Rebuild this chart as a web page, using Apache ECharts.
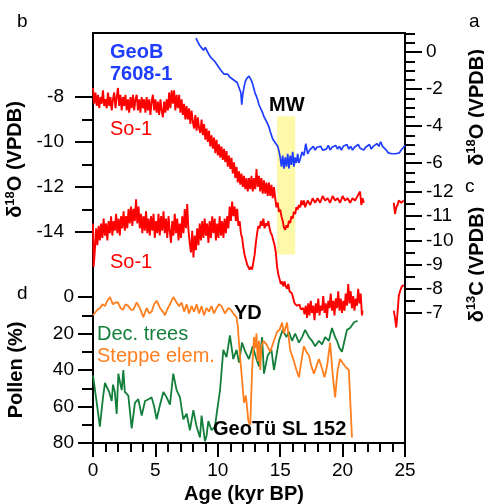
<!DOCTYPE html>
<html>
<head>
<meta charset="utf-8">
<title>So-1 / GeoB 7608-1 / GeoTu SL 152</title>
<script src="https://cdn.jsdelivr.net/npm/echarts@6/dist/echarts.min.js"></script>
<style>
    html, body { margin: 0; padding: 0; background: #fff; }
    #chart { width: 484px; height: 504px; }
</style>
</head>
<body>
<div id="chart"></div>
<script>

// Data
// ------------------------------

// GeoB 7608-1 d18O, [age kyr BP, permil]
var geobO = [
    [8.25, 0.75], [8.4, 0.55], [8.55, 0.35], [8.7, 0.45], [8.85, 0.1], [9.0, 0.25], [9.15, 0.05],
    [9.3, -0.15], [9.45, -0.3], [9.6, -0.4], [9.75, -0.5], [9.9, -0.65], [10.05, -0.75], [10.2, -0.95],
    [10.35, -1.05], [10.5, -1.2], [10.65, -1.3], [10.8, -1.2], [10.95, -1.35], [11.1, -1.45], [11.25, -1.5],
    [11.4, -1.55], [11.55, -1.65], [11.7, -1.7], [11.85, -2.2], [11.92, -2.85], [12.0, -2.3], [12.1, -1.9],
    [12.2, -1.6], [12.3, -1.45], [12.4, -1.55], [12.5, -1.3], [12.6, -1.35], [12.7, -1.55], [12.8, -1.75],
    [12.9, -2.0], [13.0, -2.25], [13.1, -2.4], [13.2, -2.6], [13.3, -2.85], [13.4, -3.0], [13.5, -3.1],
    [13.6, -3.3], [13.7, -3.5], [13.8, -3.6], [13.9, -3.75], [14.0, -3.9], [14.1, -4.05], [14.2, -4.3],
    [14.3, -4.5], [14.4, -4.7], [14.5, -4.75], [14.6, -4.9], [14.7, -4.95], [14.8, -5.1], [14.9, -5.35],
    [15.0, -5.7], [15.1, -6.2], [15.2, -5.6], [15.3, -6.3], [15.4, -5.7], [15.5, -6.2], [15.6, -5.5],
    [15.7, -6.3], [15.8, -5.6], [15.9, -6.1], [16.0, -5.4], [16.1, -6.2], [16.2, -5.7], [16.3, -6.0],
    [16.4, -5.5], [16.5, -6.0], [16.6, -5.8], [16.75, -5.4], [16.9, -5.6], [17.05, -4.95], [17.2, -5.5],
    [17.35, -5.3], [17.5, -5.4], [17.65, -5.1], [17.8, -5.3], [17.95, -5.15], [18.1, -5.25], [18.25, -5.1],
    [18.4, -5.3], [18.55, -5.2], [18.7, -5.25], [18.85, -5.05], [19.0, -5.3], [19.15, -5.15], [19.3, -5.2],
    [19.45, -5.05], [19.6, -5.25], [19.75, -5.1], [19.9, -5.3], [20.05, -5.1], [20.2, -5.2], [20.35, -5.0],
    [20.5, -5.25], [20.65, -5.1], [20.8, -5.3], [20.95, -5.15], [21.1, -5.25], [21.25, -5.0], [21.4, -5.2],
    [21.55, -5.1], [21.7, -5.3], [21.85, -5.15], [22.0, -5.2], [22.15, -5.0], [22.3, -5.25], [22.45, -5.1],
    [22.6, -5.15], [22.75, -4.95], [22.9, -5.1], [23.05, -4.85], [23.2, -5.1], [23.35, -5.2], [23.5, -5.3],
    [23.65, -5.45], [23.8, -5.35], [23.95, -5.5], [24.1, -5.45], [24.25, -5.5], [24.4, -5.4], [24.55, -5.45],
    [24.7, -5.3], [24.85, -5.2], [25.0, -5.05]
];

// So-1 d18O
var so1O = [
    [0.0, -7.6], [0.1, -8.3], [0.2, -7.8], [0.3, -8.4], [0.4, -7.9], [0.5, -8.5], [0.6, -8.0], [0.7, -8.3],
    [0.8, -7.7], [0.9, -8.4], [1.0, -8.1], [1.1, -8.5], [1.2, -7.8], [1.3, -8.4], [1.4, -8.0], [1.5, -8.6],
    [1.6, -8.1], [1.7, -7.8], [1.8, -8.5], [1.9, -8.0], [2.0, -7.6], [2.1, -8.4], [2.2, -7.9], [2.3, -8.6],
    [2.4, -8.0], [2.5, -8.4], [2.6, -7.9], [2.7, -8.6], [2.8, -8.1], [2.9, -8.7], [3.0, -8.0], [3.1, -8.5],
    [3.2, -7.9], [3.3, -8.6], [3.4, -8.1], [3.5, -7.9], [3.6, -8.6], [3.7, -8.1], [3.8, -8.7], [3.9, -8.0],
    [4.0, -8.5], [4.1, -8.1], [4.2, -8.7], [4.3, -8.0], [4.4, -8.6], [4.5, -8.1], [4.6, -8.8], [4.7, -8.2],
    [4.8, -7.9], [4.9, -8.6], [5.0, -8.1], [5.1, -8.7], [5.2, -8.2], [5.3, -8.8], [5.4, -8.1], [5.5, -8.6],
    [5.6, -8.9], [5.7, -8.2], [5.8, -8.7], [5.9, -8.1], [6.0, -8.6], [6.1, -7.8], [6.2, -8.5], [6.3, -7.7],
    [6.4, -8.3], [6.5, -7.7], [6.6, -8.6], [6.7, -7.9], [6.8, -8.5], [6.9, -7.9], [7.0, -8.7], [7.1, -8.1],
    [7.2, -8.8], [7.3, -8.3], [7.4, -9.0], [7.5, -8.4], [7.6, -9.0], [7.7, -8.5], [7.8, -9.2], [7.9, -8.6],
    [8.0, -9.1], [8.1, -9.4], [8.2, -8.8], [8.3, -9.5], [8.4, -8.9], [8.5, -9.4], [8.6, -9.6], [8.7, -9.0],
    [8.8, -9.7], [8.9, -9.2], [9.0, -9.9], [9.1, -9.4], [9.2, -10.0], [9.3, -9.5], [9.4, -10.2], [9.5, -9.7],
    [9.6, -10.3], [9.7, -9.8], [9.8, -10.5], [9.9, -9.9], [10.0, -10.6], [10.1, -10.1], [10.2, -10.7],
    [10.3, -10.2], [10.4, -10.8], [10.5, -10.3], [10.6, -10.9], [10.7, -10.4], [10.8, -11.1], [10.9, -10.6],
    [11.0, -11.2], [11.1, -10.7], [11.2, -11.4], [11.3, -10.9], [11.4, -11.6], [11.5, -11.1], [11.6, -11.8],
    [11.7, -11.3], [11.8, -11.9], [11.9, -11.4], [12.0, -12.0], [12.1, -11.5], [12.2, -12.1], [12.3, -11.6],
    [12.4, -12.2], [12.5, -11.6], [12.6, -12.1], [12.7, -11.5], [12.8, -12.2], [12.9, -11.6], [13.0, -12.1],
    [13.1, -11.2], [13.2, -12.0], [13.3, -11.5], [13.4, -12.2], [13.5, -11.6], [13.6, -12.3], [13.7, -11.7],
    [13.8, -12.3], [13.9, -11.8], [14.0, -12.4], [14.1, -11.8], [14.2, -12.4], [14.3, -11.9], [14.4, -12.5],
    [14.5, -12.0], [14.6, -12.5], [14.7, -12.9], [14.8, -12.7], [14.9, -13.1], [15.0, -13.0], [15.1, -13.3],
    [15.2, -13.5], [15.3, -13.8], [15.4, -13.9], [15.5, -13.7], [15.6, -13.8], [15.7, -13.5], [15.8, -13.6],
    [15.9, -13.3], [16.0, -13.4], [16.1, -13.1], [16.2, -13.2], [16.3, -12.9], [16.4, -13.0], [16.5, -12.8],
    [16.6, -12.9], [16.7, -12.6], [16.8, -12.8], [16.9, -12.6], [17.0, -12.9], [17.2, -12.6], [17.4, -12.8],
    [17.6, -12.5], [17.8, -12.7], [18.0, -12.5], [18.2, -12.7], [18.4, -12.4], [18.6, -12.6], [18.8, -12.5],
    [19.0, -12.7], [19.2, -12.4], [19.4, -12.6], [19.6, -12.5], [19.8, -12.7], [20.0, -12.4], [20.2, -12.6],
    [20.4, -12.5], [20.6, -12.7], [20.8, -12.5], [21.0, -12.6], [21.2, -12.4], [21.4, -12.2], [21.5, -12.8],
    [21.6, -12.5], [21.7, -12.7]
];
var so1OLate = [
    [24.1, -12.7], [24.2, -13.2], [24.3, -12.9], [24.4, -12.8], [24.5, -12.6], [24.7, -12.7], [24.9, -12.6]
];

// So-1 d13C
var so1C = [
    [0.0, -10.7], [0.05, -8.9], [0.15, -9.6], [0.25, -10.5], [0.35, -9.8], [0.45, -10.6], [0.55, -10.0],
    [0.65, -10.7], [0.75, -10.1], [0.85, -10.9], [0.95, -10.2], [1.05, -10.7], [1.15, -10.0], [1.25, -10.8],
    [1.35, -10.3], [1.45, -11.0], [1.55, -10.2], [1.65, -10.8], [1.75, -10.4], [1.85, -11.1], [1.95, -10.3],
    [2.05, -10.9], [2.15, -10.2], [2.25, -11.0], [2.35, -10.5], [2.45, -11.2], [2.55, -10.4], [2.65, -11.0],
    [2.75, -10.5], [2.85, -11.3], [2.95, -10.7], [3.05, -11.4], [3.15, -10.6], [3.25, -11.3], [3.35, -10.8],
    [3.45, -11.7], [3.55, -10.7], [3.65, -11.4], [3.75, -10.5], [3.85, -11.1], [3.95, -10.3], [4.05, -11.0],
    [4.15, -10.4], [4.25, -11.2], [4.35, -10.3], [4.45, -10.9], [4.55, -10.2], [4.65, -11.0], [4.75, -10.4],
    [4.85, -11.1], [4.95, -10.1], [5.05, -10.8], [5.15, -10.3], [5.25, -11.1], [5.35, -10.2], [5.45, -11.0],
    [5.55, -10.4], [5.65, -11.2], [5.75, -10.3], [5.85, -10.9], [5.95, -10.1], [6.05, -11.0], [6.15, -10.4],
    [6.25, -9.9], [6.35, -10.8], [6.45, -10.2], [6.55, -11.1], [6.65, -10.3], [6.75, -10.9], [6.85, -10.0],
    [6.95, -10.7], [7.05, -10.1], [7.15, -11.0], [7.25, -10.3], [7.35, -11.3], [7.45, -10.5], [7.55, -11.5],
    [7.65, -10.4], [7.75, -9.9], [7.85, -9.5], [7.95, -10.4], [8.05, -9.3], [8.15, -10.2], [8.25, -9.6],
    [8.35, -10.5], [8.45, -9.8], [8.55, -10.7], [8.65, -10.0], [8.75, -10.8], [8.85, -10.1], [8.95, -10.9],
    [9.05, -10.2], [9.15, -10.7], [9.25, -9.9], [9.35, -10.8], [9.45, -10.1], [9.55, -11.0], [9.65, -10.3],
    [9.75, -10.9], [9.85, -10.0], [9.95, -10.7], [10.05, -10.1], [10.15, -11.0], [10.25, -10.2], [10.35, -10.8],
    [10.45, -10.1], [10.55, -10.9], [10.65, -10.3], [10.75, -11.0], [10.85, -10.5], [10.95, -11.4], [11.05, -10.8],
    [11.15, -11.6], [11.25, -11.0], [11.35, -11.4], [11.45, -10.8], [11.55, -11.3], [11.65, -10.6], [11.75, -10.8],
    [11.85, -10.3], [11.95, -10.1], [12.05, -9.7], [12.15, -9.4], [12.25, -9.2], [12.35, -9.0], [12.45, -8.9],
    [12.55, -8.8], [12.65, -8.9], [12.75, -8.8], [12.85, -9.1], [12.95, -9.4], [13.05, -9.9], [13.15, -10.3],
    [13.25, -10.6], [13.35, -10.5], [13.45, -10.8], [13.55, -10.6], [13.65, -10.9], [13.75, -10.5], [13.85, -10.7],
    [13.95, -10.6], [14.05, -10.8], [14.15, -10.5], [14.25, -10.3], [14.35, -10.2], [14.45, -10.0], [14.55, -9.8],
    [14.65, -9.5], [14.75, -8.9], [14.85, -8.6], [14.95, -8.4], [15.05, -8.2], [15.15, -8.3], [15.25, -8.1],
    [15.35, -8.3], [15.45, -8.1], [15.55, -8.0], [15.65, -8.2], [15.75, -7.9], [15.85, -7.95], [15.95, -7.8],
    [16.05, -7.6], [16.15, -7.4], [16.25, -7.45], [16.35, -7.3], [16.45, -7.25], [16.55, -7.35], [16.65, -7.15],
    [16.75, -7.1], [16.85, -7.2], [16.95, -6.95], [17.05, -7.3], [17.15, -6.8], [17.25, -7.4], [17.35, -6.9],
    [17.45, -7.5], [17.55, -7.0], [17.65, -7.3], [17.75, -6.7], [17.85, -7.4], [17.95, -7.0], [18.05, -7.6],
    [18.15, -6.9], [18.25, -7.3], [18.35, -7.1], [18.45, -7.7], [18.55, -7.0], [18.65, -7.4], [18.75, -6.8],
    [18.85, -7.5], [18.95, -7.2], [19.05, -7.8], [19.15, -7.1], [19.25, -7.5], [19.35, -6.9], [19.45, -7.6],
    [19.55, -7.2], [19.65, -7.9], [19.75, -7.1], [19.85, -7.6], [19.95, -7.0], [20.05, -7.5], [20.15, -7.1],
    [20.25, -7.8], [20.35, -7.3], [20.45, -8.2], [20.55, -7.4], [20.65, -7.9], [20.75, -7.2], [20.85, -7.7],
    [20.95, -7.1], [21.05, -7.6], [21.15, -7.3], [21.25, -8.0], [21.35, -7.4], [21.45, -7.8], [21.55, -6.9],
    [21.6, -7.1]
];
var so1CLate = [
    [24.1, -7.1], [24.2, -6.8], [24.3, -6.4], [24.4, -7.0], [24.5, -7.7], [24.6, -7.9], [24.75, -8.1], [24.9, -8.15]
];

// GeoTu SL 152 pollen, %
var decTrees = [
    [0.0, 43], [0.3, 58], [0.55, 71], [0.8, 55], [0.96, 47], [1.15, 50], [1.3, 52], [1.5, 57], [1.6, 48],
    [1.75, 52], [1.9, 64], [2.03, 42], [2.2, 48], [2.3, 51], [2.43, 40], [2.55, 52], [2.7, 51], [2.83, 54],
    [3.1, 72], [3.36, 58], [3.63, 56], [3.9, 65], [4.17, 57], [4.45, 56], [4.7, 55], [4.9, 60], [5.1, 67],
    [5.37, 59], [5.64, 52], [5.9, 55], [6.17, 59], [6.43, 42], [6.7, 51], [6.97, 55], [7.1, 61], [7.24, 67],
    [7.5, 64], [7.77, 73], [8.04, 62], [8.3, 71], [8.57, 77], [8.7, 65], [8.97, 79], [9.1, 76], [9.24, 68],
    [9.5, 73], [9.77, 71], [9.95, 62], [10.18, 51], [10.44, 29], [10.7, 33], [10.97, 21], [11.24, 34],
    [11.5, 29], [11.7, 36], [11.94, 25], [12.2, 30], [12.5, 34], [12.8, 27], [13.05, 33], [13.3, 38],
    [13.55, 22], [13.7, 42], [14.0, 32], [14.3, 29], [14.5, 40], [14.7, 32], [14.9, 24], [15.2, 18],
    [15.5, 22], [15.7, 19], [15.95, 24], [16.2, 20], [16.5, 25], [16.75, 22], [17.0, 18], [17.3, 22],
    [17.55, 24], [17.8, 27], [18.1, 24], [18.35, 26], [18.6, 22], [18.9, 24], [19.15, 17], [19.4, 22],
    [19.55, 24], [19.75, 28], [19.95, 30], [20.15, 24], [20.35, 18], [20.6, 17], [20.9, 14], [21.2, 13]
];
var steppe = [
    [0.0, 10], [0.15, 9], [0.35, 7], [0.56, 6], [0.75, 4], [0.96, 5], [1.15, 2], [1.36, 0], [1.6, 4],
    [1.8, 3], [2.0, 3], [2.2, 6], [2.4, 7], [2.6, 4], [2.83, 5], [3.05, 7], [3.23, 7], [3.5, 3], [3.75, 6],
    [4.03, 11], [4.3, 6], [4.5, 9], [4.7, 8], [4.9, 4], [5.1, 2], [5.37, 6], [5.6, 8], [5.77, 10], [6.0, 6],
    [6.17, 4], [6.43, 0], [6.7, 3], [6.9, 5], [7.1, 3], [7.3, 8], [7.5, 4], [7.7, 9], [7.9, 5], [8.1, 8],
    [8.3, 4], [8.5, 9], [8.7, 5], [8.9, 10], [9.1, 6], [9.3, 8], [9.5, 5], [9.7, 9], [9.9, 6], [10.1, 4],
    [10.3, 5], [10.57, 9], [10.84, 6], [11.05, 7], [11.24, 9], [11.5, 11], [11.6, 16], [11.75, 30],
    [11.94, 45], [12.1, 58], [12.25, 54], [12.45, 68], [12.6, 70], [12.75, 40], [12.9, 22], [13.0, 28],
    [13.1, 20], [13.2, 35], [13.3, 24], [13.4, 40], [13.5, 27], [13.65, 24], [13.9, 26], [14.2, 30],
    [14.5, 24], [14.75, 19], [14.95, 18], [15.15, 14], [15.3, 20], [15.55, 14], [15.8, 29], [16.05, 34],
    [16.3, 40], [16.5, 44], [16.7, 35], [16.9, 27], [17.1, 30], [17.3, 32], [17.5, 38], [17.7, 42],
    [17.9, 38], [18.1, 34], [18.3, 38], [18.55, 44], [18.75, 38], [19.0, 25], [19.2, 42], [19.4, 55],
    [19.6, 40], [19.8, 34], [20.0, 36], [20.2, 38], [20.5, 40], [20.75, 77]
];

// Meltwater (MW) interval, kyr BP, and the So-1 d18O span of its shading
var mwAges = [14.75, 16.2];
var mwSpan = [-8.85, -15.0];


// Setup module
// ------------------------------

var PaleoStackChart = function() {

    var _stackChart = function() {
        if (typeof echarts == 'undefined') {
            console.warn('Warning - echarts.min.js is not loaded.');
            return;
        }

        var element = document.getElementById('chart');
        if (!element) {
            return;
        }

        var chart = echarts.init(element, null, { renderer: 'canvas' });

        // Colors and fonts
        var font = '"Liberation Sans", Arial, sans-serif',
            black = '#000',
            red = '#ff0000',
            blue = '#1f3dff',
            green = '#137f3b',
            orange = '#ff7f1f',
            shade = 'rgba(253, 245, 140, 0.75)';

        var tickStyle = { color: black, width: 2 };

        // Every grid shares the frame's horizontal extent
        var makeGrid = function(top, height) {
            var g = { left: 93, right: 79, top: top, outerBoundsMode: 'none', containLabel: false };
            if (height == null) {
                g.bottom = 61;
            } else {
                g.height = height;
            }
            return g;
        };

        // Title with superscript isotope number
        var isoTitle = function(mass, element) {
            return '{a|\u03b4}{s|' + mass + '}{a|' + element + ' (VPDB)}';
        };
        var titleRich = {
            a: { fontFamily: font, fontSize: 20, fontWeight: 'bold', color: black, lineHeight: 22, verticalAlign: 'bottom' },
            s: { fontFamily: font, fontSize: 13, fontWeight: 'bold', color: black, lineHeight: 22, verticalAlign: 'top' }
        };

        // Hidden x axis for a data grid
        var hiddenX = function(grid) {
            return { type: 'value', gridIndex: grid, min: 0, max: 25, show: false };
        };

        // Tick-bearing y axis (axis line drawn by the frame)
        var valueY = function(opt) {
            return {
                type: 'value',
                gridIndex: opt.grid,
                position: opt.side,
                min: opt.min,
                max: opt.max,
                interval: opt.interval,
                inverse: !!opt.inverse,
                axisLine: { show: false, onZero: false },
                splitLine: { show: false },
                axisTick: { show: true, length: opt.tick, lineStyle: tickStyle },
                minorTick: {
                    show: !!opt.minor,
                    splitNumber: opt.minor || 2,
                    length: opt.minorTick || 10,
                    lineStyle: tickStyle
                },
                axisLabel: {
                    show: opt.labels !== false,
                    margin: opt.margin,
                    fontFamily: font,
                    fontSize: 19,
                    color: black
                },
                name: opt.name || '',
                nameLocation: 'middle',
                nameRotate: 90,
                nameGap: opt.nameGap,
                nameTextStyle: { rich: titleRich, padding: opt.namePadding || 0 }
            };
        };

        var lineSeries = function(data, color, x, y, z, width) {
            return {
                type: 'line',
                xAxisIndex: x,
                yAxisIndex: y,
                data: data,
                showSymbol: false,
                clip: false,
                z: z || 3,
                lineStyle: { color: color, width: width || 1.6 },
                emphasis: { disabled: true }
            };
        };

        var label = function(text, x, y, color, weight, size) {
            return {
                type: 'text',
                x: x,
                y: y,
                z: 10,
                style: {
                    text: text,
                    fill: color,
                    font: (weight || 'normal') + ' ' + (size || 20) + 'px ' + font,
                    verticalAlign: 'middle'
                }
            };
        };

        chart.setOption({
            animation: false,
            backgroundColor: '#fff',

            grid: [
                makeGrid(33),          // frame
                makeGrid(33.5, 148),   // GeoB half ticks
                makeGrid(52, 111),     // GeoB d18O
                makeGrid(97, 135),     // So-1 d18O
                makeGrid(192, 121),    // So-1 d13C
                makeGrid(297, 146),    // pollen
                makeGrid(97, 157.5)    // MW shading, So-1 d18O units
            ],

            xAxis: [
                {
                    type: 'value',
                    gridIndex: 0,
                    min: 0,
                    max: 25,
                    interval: 5,
                    axisLine: { onZero: false, lineStyle: { color: black, width: 2 } },
                    axisTick: { length: 14, lineStyle: tickStyle },
                    minorTick: { show: true, splitNumber: 5, length: 9, lineStyle: tickStyle },
                    splitLine: { show: false },
                    axisLabel: { margin: 18, fontFamily: font, fontSize: 19, color: black },
                    name: 'Age (kyr BP)',
                    nameLocation: 'middle',
                    nameGap: 41,
                    nameTextStyle: { fontFamily: font, fontSize: 20, fontWeight: 'bold', color: black, padding: [0, 10, 0, 0] }
                },
                {
                    type: 'value',
                    gridIndex: 0,
                    position: 'top',
                    min: 0,
                    max: 25,
                    axisLine: { onZero: false, lineStyle: { color: black, width: 2 } },
                    axisTick: { show: false },
                    axisLabel: { show: false },
                    splitLine: { show: false }
                },
                hiddenX(1), hiddenX(2), hiddenX(3), hiddenX(4), hiddenX(5), hiddenX(6)
            ],

            yAxis: [
                {
                    type: 'value', gridIndex: 0, position: 'left', min: 0, max: 1,
                    axisLine: { show: true, onZero: false, lineStyle: { color: black, width: 2 } },
                    axisTick: { show: false }, axisLabel: { show: false }, splitLine: { show: false }
                },
                {
                    type: 'value', gridIndex: 0, position: 'right', min: 0, max: 1,
                    axisLine: { show: true, onZero: false, lineStyle: { color: black, width: 2 } },
                    axisTick: { show: false }, axisLabel: { show: false }, splitLine: { show: false }
                },
                valueY({ grid: 1, side: 'right', min: -7, max: 1, interval: 0.5, tick: 10, labels: false }),
                valueY({ grid: 2, side: 'right', min: -6, max: 0, interval: 2, tick: 17, margin: 21,
                    name: isoTitle('18', 'O'), nameGap: 60 }),
                valueY({ grid: 3, side: 'left', min: -14, max: -8, interval: 2, tick: 18, minor: 2, minorTick: 11,
                    margin: 29, name: isoTitle('18', 'O'), nameGap: 65, namePadding: [0, 0, 0, 10] }),
                valueY({ grid: 4, side: 'right', min: -12, max: -7, interval: 1, inverse: true, tick: 17, minor: 2,
                    minorTick: 10, margin: 21, name: isoTitle('13', 'C'), nameGap: 60, namePadding: [0, 24, 0, 0] }),
                {
                    type: 'value', gridIndex: 5, position: 'left', min: 0, max: 80, interval: 20, inverse: true,
                    axisLine: { show: false, onZero: false }, splitLine: { show: false },
                    axisTick: { length: 15, lineStyle: tickStyle },
                    minorTick: { show: true, splitNumber: 2, length: 11, lineStyle: tickStyle },
                    axisLabel: { margin: 19, fontFamily: font, fontSize: 19, color: black },
                    name: 'Pollen (%)',
                    nameLocation: 'middle',
                    nameRotate: 90,
                    nameGap: 67,
                    nameTextStyle: { fontFamily: font, fontSize: 20, fontWeight: 'bold', color: black }
                },
                { type: 'value', gridIndex: 6, min: -15, max: -8, show: false }
            ],

            series: [
                // MW shading behind the records
                {
                    type: 'line',
                    xAxisIndex: 7,
                    yAxisIndex: 7,
                    data: [],
                    z: 1,
                    markArea: {
                        silent: true,
                        itemStyle: { color: shade },
                        data: [[
                            { coord: [mwAges[0], mwSpan[0]] },
                            { coord: [mwAges[1], mwSpan[1]] }
                        ]]
                    }
                },
                lineSeries(geobO, blue, 3, 3, 3, 1.7),
                lineSeries(so1O, red, 4, 4, 3, 1.9),
                lineSeries(so1OLate, red, 4, 4, 3, 1.9),
                lineSeries(so1C, red, 5, 5, 3, 1.9),
                lineSeries(so1CLate, red, 5, 5, 3, 1.9),
                lineSeries(decTrees, green, 6, 6, 4, 1.8),
                lineSeries(steppe, orange, 6, 6, 5, 1.8)
            ],

            graphic: [
                label('b', 17, 22, black, 'normal', 19),
                label('a', 469, 22, black, 'normal', 19),
                label('c', 465, 187, black, 'normal', 19),
                label('d', 17, 294, black, 'normal', 19),
                label('GeoB', 110, 52, blue, 'bold'),
                label('7608-1', 110, 74, blue, 'bold'),
                label('So-1', 110, 129, red),
                label('So-1', 110, 262, red),
                label('MW', 269, 105, black, 'bold'),
                label('YD', 234, 313, black, 'bold'),
                label('Dec. trees', 97, 334, green),
                label('Steppe elem.', 97, 356, orange),
                label('GeoT\u00fc SL 152', 213, 429, black, 'bold')
            ]
        });

        // Resize
        window.addEventListener('resize', function() {
            chart.resize();
        });
    };

    return {
        init: function() {
            _stackChart();
        }
    }
}();


// Initialize module
// ------------------------------

document.addEventListener('DOMContentLoaded', function() {
    PaleoStackChart.init();
});
</script>
</body>
</html>
